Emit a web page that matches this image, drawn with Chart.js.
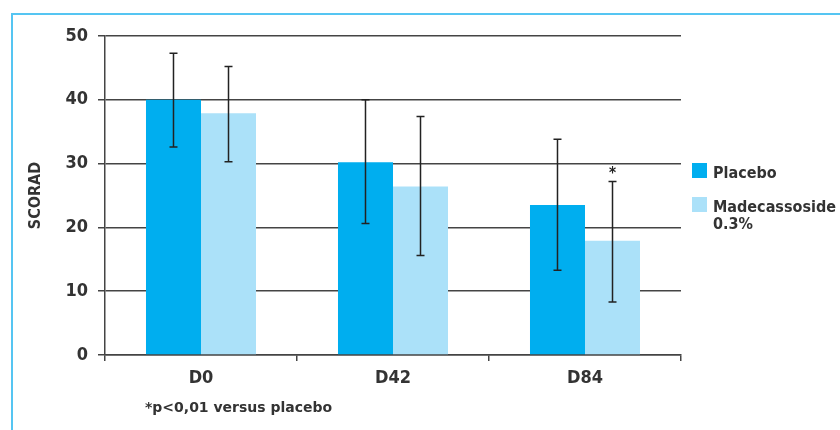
<!DOCTYPE html>
<html>
<head>
<meta charset="utf-8">
<script src="https://cdn.jsdelivr.net/npm/chart.js@4"></script>
<style>
  html, body { margin: 0; padding: 0; background: #fff; }
  #wrap { width: 840px; height: 430px; }
</style>
</head>
<body>
<div id="wrap"><canvas id="chart" width="840" height="430"></canvas></div>
<script>
// values
const categories = ['D0', 'D42', 'D84'];
const placebo = [40.0, 30.2, 23.5];
const placeboLow = [32.6, 20.6, 13.3];
const placeboHigh = [47.3, 40.0, 33.8];
const madecassoside = [37.9, 26.4, 17.9];
const madecassosideLow = [30.3, 15.6, 8.3];
const madecassosideHigh = [45.2, 37.4, 27.2];
const yTicks = [0, 10, 20, 30, 40, 50];
const significant = [false, false, true]; // madecassoside vs placebo

const FONT = '"DejaVu Sans Condensed", "DejaVu Sans", sans-serif';
const TEXT = '#333';
const LINE = '#444';

const errorBars = {
    id: 'errorBars',
    afterDatasetsDraw(chart) {
        const ctx = chart.ctx;
        const y = chart.scales.y;
        const ranges = [[placeboLow, placeboHigh], [madecassosideLow, madecassosideHigh]];
        ctx.save();
        ctx.strokeStyle = '#222';
        ctx.lineWidth = 1.5;
        ranges.forEach((r, di) => {
            chart.getDatasetMeta(di).data.forEach((bar, i) => {
                const top = y.getPixelForValue(r[1][i]);
                const bot = y.getPixelForValue(r[0][i]);
                ctx.beginPath();
                ctx.moveTo(bar.x, top); ctx.lineTo(bar.x, bot);
                ctx.moveTo(bar.x - 4, top); ctx.lineTo(bar.x + 4, top);
                ctx.moveTo(bar.x - 4, bot); ctx.lineTo(bar.x + 4, bot);
                ctx.stroke();
                if (di === 1 && significant[i]) {
                    ctx.fillStyle = '#222';
                    ctx.font = 'bold 15px ' + FONT;
                    ctx.textAlign = 'center';
                    ctx.fillText('*', bar.x, top - 3);
                }
            });
        });
        ctx.restore();
    }
};

const decorations = {
    id: 'decorations',
    beforeDraw(chart) {
        const ctx = chart.ctx;
        ctx.save();
        ctx.strokeStyle = '#55c5f2';
        ctx.lineWidth = 2;
        ctx.strokeRect(12, 14, 900, 500);
        ctx.restore();
    },
    afterDraw(chart) {
        const ctx = chart.ctx;
        ctx.save();
        // footnote
        ctx.fillStyle = TEXT;
        ctx.font = 'bold 14px "DejaVu Sans", sans-serif';
        ctx.textAlign = 'left';
        ctx.fillText('*p<0,01 versus placebo', 145, 412);
        // legend
        const lines = [['Placebo'], ['Madecassoside', '0.3%']];
        const boxY = [163, 197];
        ctx.font = 'bold 16px ' + FONT;
        chart.data.datasets.forEach((ds, i) => {
            ctx.fillStyle = ds.backgroundColor;
            ctx.fillRect(692, boxY[i], 15, 15);
            ctx.fillStyle = TEXT;
            lines[i].forEach((t, k) => ctx.fillText(t, 713, boxY[i] + 15 + k * 17));
        });
        ctx.restore();
    }
};

const ctx = document.getElementById('chart').getContext('2d');
const myChart = new Chart(ctx, {
    type: 'bar',
    data: {
        labels: categories,
        datasets: [{
            label: 'Placebo',
            backgroundColor: '#00aeef',
            data: placebo
        }, {
            label: 'Madecassoside 0.3%',
            backgroundColor: '#abe1f9',
            data: madecassoside
        }]
    },
    options: {
        responsive: false,
        animation: false,
        layout: { padding: { top: 36, right: 159, bottom: 0, left: 0 } },
        datasets: { bar: { categoryPercentage: 0.573, barPercentage: 1.0 } },
        plugins: { legend: { display: false }, tooltip: { enabled: false } },
        scales: {
            x: {
                afterFit: (s) => { s.height = 75; },
                grid: {
                    color: (c) => c.index === 3 ? LINE : 'rgba(0,0,0,0)',
                    tickColor: LINE,
                    lineWidth: 1.5,
                    tickLength: 6
                },
                border: { color: LINE, width: 1.5 },
                ticks: { color: TEXT, padding: 7, font: { family: FONT, size: 18, weight: 'bold' } }
            },
            y: {
                min: 0,
                max: 50,
                afterFit: (s) => { s.width = 105; },
                afterBuildTicks: (s) => { s.ticks = yTicks.map(v => ({ value: v })); },
                grid: { color: LINE, lineWidth: 1.5, tickLength: 7 },
                border: { color: LINE, width: 1.5 },
                ticks: { color: TEXT, padding: 10, font: { family: FONT, size: 18, weight: 'bold' } },
                title: {
                    display: true,
                    text: 'SCORAD',
                    color: TEXT,
                    padding: { top: 26, bottom: 0 },
                    font: { family: FONT, size: 16, weight: 'bold' }
                }
            }
        }
    },
    plugins: [errorBars, decorations]
});
</script>
</body>
</html>
